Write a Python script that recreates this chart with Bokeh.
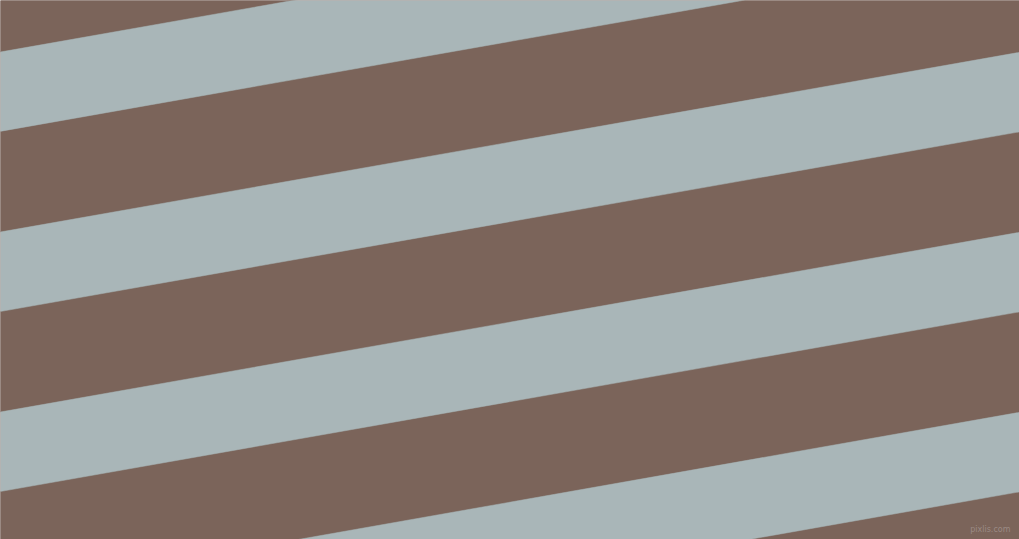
from bokeh.plotting import figure
from bokeh.models import Range1d
from bokeh.embed import file_html
from bokeh.resources import INLINE
from bokeh.core.properties import value
import math

# stripe data (offsets measured at left edge, in reference pixel units)
gray_tops = [51.5, 231.5, 411.5, 591.5]
gray_bottoms = [130.8, 311.0, 491.0, 671.0]
brown_tops = [-130.0, 130.8, 311.0, 491.0, 671.0]
brown_bottoms = [51.5, 231.5, 411.5, 591.5, 800.0]
angle_deg = [10.0]
colors = ["#7b645a", "#a9b6b8"]
watermark = ["pixlis.com"]

slope = math.tan(math.radians(angle_deg[0]))
x0, x1 = -50.0, 1100.0

def band_polys(tops, bottoms):
    xs, ys = [], []
    for t, b in zip(tops, bottoms):
        xs.append([x0, x1, x1, x0])
        ys.append([t - slope * x0, t - slope * x1, b - slope * x1, b - slope * x0])
    return xs, ys

W, H = 1019, 539
p = figure(width=W, height=H, output_backend="svg", toolbar_location=None,
           x_range=Range1d(0, W), y_range=Range1d(H, 0),
           min_border=0, background_fill_color=colors[0],
           border_fill_color=colors[0])
p.axis.visible = False
p.grid.visible = False
p.outline_line_color = None

bx, by = band_polys(brown_tops, brown_bottoms)
p.patches(bx, by, fill_color=colors[0], line_color=colors[0], line_width=0.5)
gx, gy = band_polys(gray_tops, gray_bottoms)
p.patches(gx, gy, fill_color=colors[1], line_color=colors[1], line_width=0.5)

p.text(x=[1010], y=[529], text=watermark, text_align="right", text_baseline="middle",
       text_font_size="8px", text_color="#9a8a84", text_font=value("DejaVu Sans"))

open("out.html", "w").write(file_html(p, INLINE))
